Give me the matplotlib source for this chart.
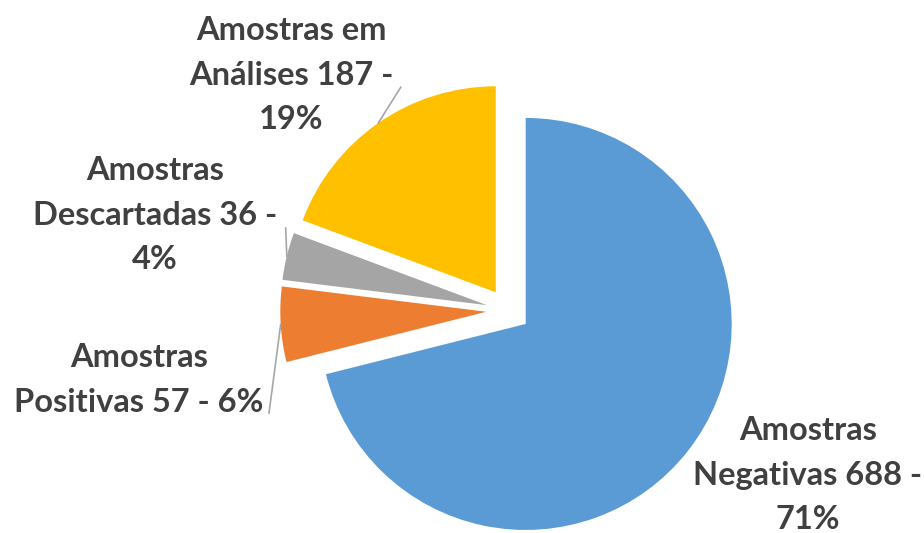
import numpy as np
import matplotlib.pyplot as plt

# dados
categorias = ['Negativas', 'Positivas', 'Descartadas', 'em Análises']
valores = [688, 57, 36, 187]
cores = ['#5B9BD5', '#ED7D31', '#A5A5A5', '#FFC000']
modelos = ['Amostras\nNegativas {v} -\n{p}%',
           'Amostras\nPositivas {v} - {p}%',
           'Amostras\nDescartadas {v} -\n{p}%',
           'Amostras em\nAnálises {v} -\n{p}%']

# layout (pixels da figura)
cx, cy, raio = 508.3, 310.4, 206.0
pos_rotulos = [(808, 475), (139, 380), (155, 215), (291, 75)]
fim_linhas = [None, (269, 413), (285.7, 228), (400.7, 87.3)]


def px(x, y):
    """Converte pixel da imagem para coordenadas de dados."""
    return (x - cx) / raio, (cy - y) / raio


total = sum(valores)
pcts = [round(v / total * 100) for v in valores]

fig = plt.figure(figsize=(9.24, 5.33), dpi=100)
ax = fig.add_axes([0, 0, 1, 1])
wedges, _ = ax.pie(valores, explode=[0.107] * 4, colors=cores, startangle=90,
                   counterclock=False, radius=1, wedgeprops=dict(linewidth=0))
ax.set_xlim(px(0, 0)[0], px(924, 0)[0])
ax.set_ylim(px(0, 533)[1], px(0, 0)[1])
ax.axis('off')

for w, mod, v, p, pos, fim in zip(wedges, modelos, valores, pcts, pos_rotulos, fim_linhas):
    ax.text(*px(*pos), mod.format(v=v, p=p), ha='center', va='center',
            multialignment='center', fontsize=23.5, fontweight='bold',
            family='Lato', color='#404040', linespacing=1.65)
    if fim is not None:
        ang = np.deg2rad((w.theta1 + w.theta2) / 2)
        x0 = w.center[0] + w.r * np.cos(ang)
        y0 = w.center[1] + w.r * np.sin(ang)
        x1, y1 = px(*fim)
        ax.plot([x0, x1], [y0, y1], color='#A6A6A6', lw=1.2)

plt.savefig('out.png', dpi=100)
